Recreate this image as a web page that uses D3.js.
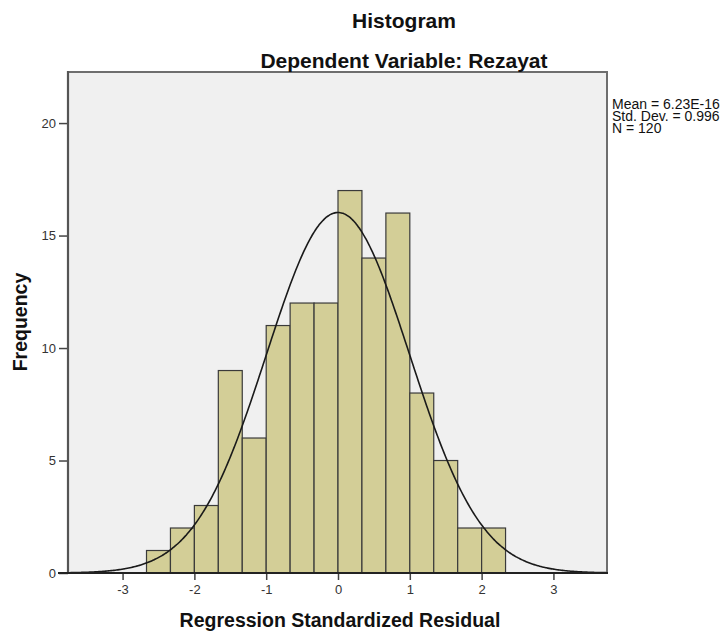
<!DOCTYPE html>
<html>
<head>
<meta charset="utf-8">
<script src="https://cdn.jsdelivr.net/npm/d3@7"></script>
<style>
html,body{margin:0;padding:0;background:#fff;}
svg text{font-family:"Liberation Sans", Arial, sans-serif;}
</style>
</head>
<body>
<svg id="chart" width="728" height="632"></svg>
<script>
// ---- data ----
const binEdges = [-2.6667,-2.3333,-2.0,-1.6667,-1.3333,-1.0,-0.6667,-0.3333,0.0,0.3333,0.6667,1.0,1.3333,1.6667,2.0,2.3333];
const counts   = [1,2,3,9,6,11,12,12,17,14,16,8,5,2,2];
const xTicks = [-3,-2,-1,0,1,2,3];
const yTicks = [0,5,10,15,20];
const statMean = 6.23e-16;
const statSD = 0.996;
const statN = 120;
const legendLines = ["Mean = 6.23E-16","Std. Dev. = 0.996","N = 120"];
const titleMain = "Histogram";
const titleSub = "Dependent Variable: Rezayat";
const xLabel = "Regression Standardized Residual";
const yLabel = "Frequency";

// ---- layout ----
const L = 68, R = 607, T = 72, B = 573;
const svg = d3.select("#chart");
const x = d3.scaleLinear().domain([-3.760, 3.746]).range([L, R]);
const y = d3.scaleLinear().domain([0, 22.27]).range([B, T]);

// plot background
svg.append("rect").attr("x",L).attr("y",T).attr("width",R-L).attr("height",B-T)
  .attr("fill","#f0f0f0");

// bars
const bins = counts.map((c,i)=>({x0:binEdges[i], x1:binEdges[i+1], c}));
svg.append("g").selectAll("rect").data(bins).join("rect")
  .attr("x", d=>x(d.x0)).attr("width", d=>x(d.x1)-x(d.x0))
  .attr("y", d=>y(d.c)).attr("height", d=>y(0)-y(d.c))
  .attr("fill","#d3ce97").attr("stroke","#3a3a3a").attr("stroke-width",1.2);

// normal curve
const bw = binEdges[1]-binEdges[0];
const scaleF = statN*bw;
const pts = d3.range(0, 401).map(i=>{
  const xv = x.domain()[0] + (x.domain()[1]-x.domain()[0])*i/400;
  const z = (xv-statMean)/statSD;
  return [xv, scaleF*Math.exp(-0.5*z*z)/(statSD*Math.sqrt(2*Math.PI))];
});
svg.append("path").datum(pts)
  .attr("d", d3.line().x(d=>x(d[0])).y(d=>y(d[1])).curve(d3.curveBasis))
  .attr("fill","none").attr("stroke","#1a1a1a").attr("stroke-width",1.6);

// frame top/right
svg.append("path").attr("d",`M${L},${T}H${R}V${B}`).attr("fill","none")
  .attr("stroke","#6e6e6e").attr("stroke-width",2);

// axes
const yAxis = d3.axisLeft(y).tickValues(yTicks).tickSize(9).tickPadding(3);
const gy = svg.append("g").attr("transform",`translate(${L},0)`).call(yAxis);
const xAxis = d3.axisBottom(x).tickValues(xTicks).tickSize(7).tickPadding(5)
  .tickFormat(d=>d<0? "-"+Math.abs(d) : d);
const gx = svg.append("g").attr("transform",`translate(0,${B})`).call(xAxis);
[gx,gy].forEach(g=>{
  g.select(".domain").remove();
  g.selectAll(".tick line").attr("stroke","#444").attr("stroke-width",1.5);
  g.selectAll(".tick text").attr("fill","#333").style("font-size","13px");
});
svg.append("line").attr("x1",L).attr("x2",L).attr("y1",T-1).attr("y2",B)
  .attr("stroke","#555").attr("stroke-width",2.2);
svg.append("line").attr("x1",L-10).attr("x2",R+1).attr("y1",B).attr("y2",B)
  .attr("stroke","#222").attr("stroke-width",2);

// titles
svg.append("text").attr("x",404).attr("y",27.5).attr("text-anchor","middle")
  .style("font-size","21px").style("font-weight","bold").attr("fill","#111").text(titleMain);
svg.append("text").attr("x",404).attr("y",67.5).attr("text-anchor","middle")
  .style("font-size","21px").style("font-weight","bold").attr("fill","#111").text(titleSub);
svg.append("text").attr("x",340).attr("y",627).attr("text-anchor","middle")
  .style("font-size","19.5px").style("font-weight","bold").attr("fill","#111").text(xLabel);
svg.append("text").attr("transform","translate(27,322) rotate(-90)").attr("text-anchor","middle")
  .style("font-size","19.5px").style("font-weight","bold").attr("fill","#111").text(yLabel);

// legend
svg.append("g").selectAll("text").data(legendLines).join("text")
  .attr("x",612).attr("y",(d,i)=>109+i*12)
  .style("font-size","14px").attr("fill","#111").text(d=>d);
</script>
</body>
</html>
